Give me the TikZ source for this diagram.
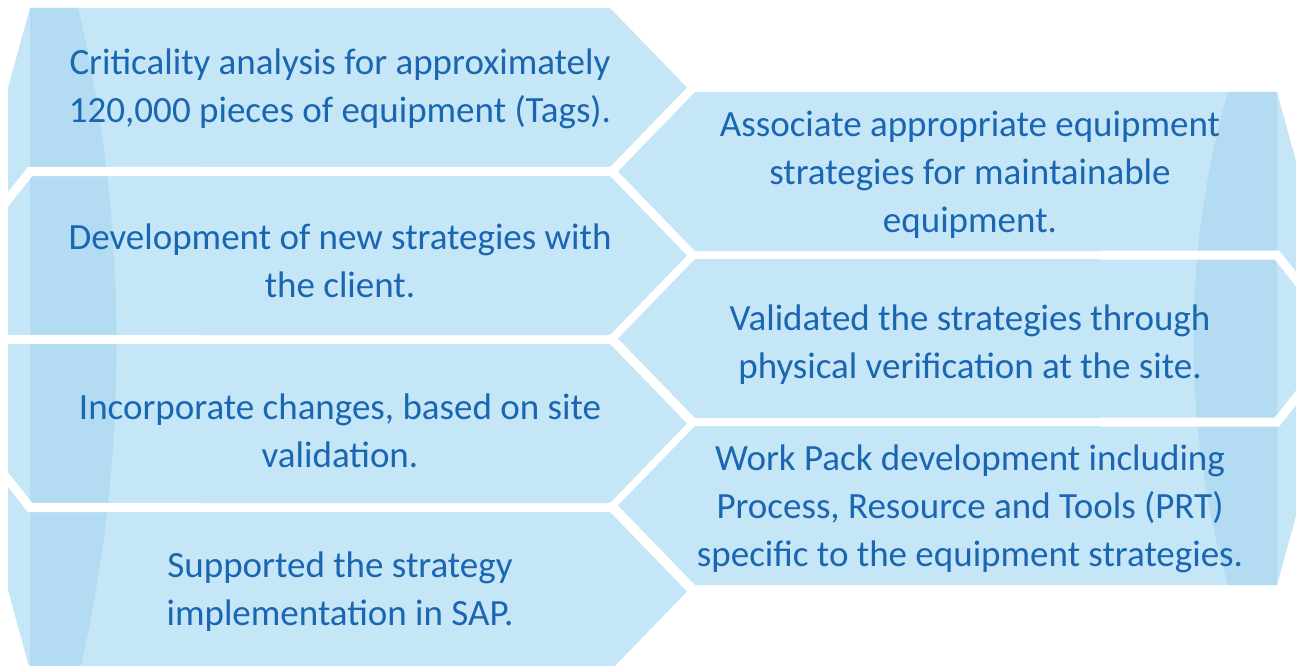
\documentclass[tikz,border=0pt]{standalone}
\usepackage{fontspec}
\setmainfont{Carlito}
\definecolor{boxblue}{RGB}{197,230,246}
\definecolor{bandblue}{RGB}{179,220,242}
\definecolor{textblue}{RGB}{26,102,178}
\begin{document}
\begin{tikzpicture}[
    x=1pt, y=-1pt,
    box/.style={fill=boxblue},
    band/.style={fill=bandblue},
    gap/.style={draw=white, line width=9pt},
    txt/.style={text=textblue, align=center, font=\fontsize{37}{48}\selectfont}
  ]
  \useasboundingbox (0,0) rectangle (1296,666);
  \clip (0,0) rectangle (1296,666);
  % left column
  \fill[box] (30,8) -- (8,88) -- (8,590) -- (30,670) -- cycle;
  \foreach \t in {8,176,344,512} {
    \fill[box] (30,\t) -- (610,\t) -- (687,\t+79.5) -- (610,\t+159) -- (30,\t+159) -- cycle;
  }
  \fill[band] (30,8) -- (78,8) .. controls (129,220) and (129,460) .. (80,670) -- (30,670) -- cycle;
  \draw[gap] (0,209.7) -- (30,171.5) -- (200,171.5);
  \draw[gap] (0,339.5) -- (200,339.5);
  \draw[gap] (0,469.3) -- (30,507.5) -- (200,507.5);
  % right column
  \fill[box] (1277,92) -- (1299,172) -- (1299,505) -- (1277,585) -- cycle;
  \foreach \t in {92,259,426} {
    \fill[box] (1277,\t) -- (695,\t) -- (618,\t+79.5) -- (695,\t+159) -- (1277,\t+159) -- cycle;
  }
  \fill[band] (1277,92) -- (1228,92) .. controls (1182,250) and (1182,430) .. (1228,585) -- (1277,585) -- cycle;
  \draw[gap] (1100,255) -- (1277,255) -- (1305,290.6);
  \draw[gap] (1100,422) -- (1277,422) -- (1305,386.4);
  % texts
  \node[txt] (crit) at (340,89) {Criticality analysis for approximately\\120,000 pieces of equipment (Tags).};
  \node[txt] (dev) at (340,261) {Development of new strategies with\\the client.};
  \node[txt] (inc) at (340,431) {Incorporate changes, based on site\\validation.};
  \node[txt] (supp) at (340,592) {Supported the strategy\\implementation in SAP.};
  \node[txt] (assoc) at (970,175) {Associate appropriate equipment\\strategies for maintainable\\equipment.};
  \node[txt] (valid) at (970,345) {Validated the strategies through\\physical verification at the site.};
  \node[txt] (work) at (970,509) {Work Pack development including\\Process, Resource and Tools (PRT)\\specific to the equipment strategies.};
\end{tikzpicture}
\end{document}
